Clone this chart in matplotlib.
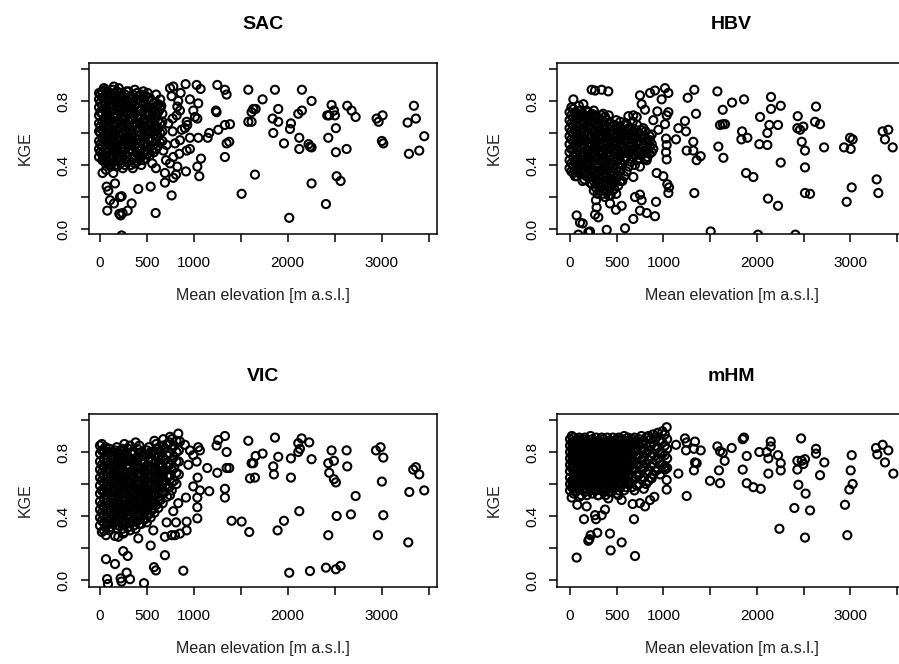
import numpy as np
import matplotlib
matplotlib.use("Agg")
import matplotlib.pyplot as plt

plt.rcParams['font.family'] = ['Liberation Sans', 'DejaVu Sans']

# ---- data: (mean elevation [m a.s.l.], KGE) ----
# scattered catchments
sac_pts = [
    (1250, 0.90), (1331, 0.87), (1349, 0.84), (1235, 0.74), (1242, 0.73), (1580, 0.87), (1732, 0.81),
    (1864, 0.87), (2151, 0.87), (2254, 0.80), (1633, 0.75), (1658, 0.75), (1615, 0.73), (1580, 0.67),
    (1615, 0.67), (1899, 0.75), (1839, 0.69), (1899, 0.67), (2151, 0.74), (2112, 0.72), (2034, 0.66),
    (2024, 0.625), (1846, 0.60), (1960, 0.535), (2123, 0.57), (2222, 0.53), (2123, 0.50), (2237, 0.515),
    (2254, 0.51), (2467, 0.775), (2492, 0.74), (2442, 0.71), (2421, 0.71), (2503, 0.71), (2513, 0.63),
    (2432, 0.57), (2513, 0.48), (2627, 0.50), (2634, 0.77), (2680, 0.74), (2723, 0.70), (2947, 0.69),
    (2968, 0.67), (3010, 0.71), (3003, 0.55), (3018, 0.535), (3344, 0.77), (3277, 0.665), (3365, 0.69),
    (3454, 0.58), (3291, 0.47), (3401, 0.49), (1651, 0.34), (1509, 0.22), (2254, 0.285), (2521, 0.33),
    (2563, 0.30), (2407, 0.156), (2016, 0.07), (1385, 0.655), (1331, 0.65), (1260, 0.62), (1164, 0.60),
    (1349, 0.535), (1377, 0.545), (1331, 0.45), (1147, 0.57),
    (1030, 0.90), (1072, 0.875), (958, 0.81), (1047, 0.785), (1012, 0.70), (1037, 0.69), (930, 0.65),
    (958, 0.57), (1047, 0.57), (958, 0.50), (1076, 0.44), (1037, 0.39), (1058, 0.33), (916, 0.36),
    (923, 0.49), (912, 0.905), (994, 0.74),
    (746, 0.88), (781, 0.89), (763, 0.83), (859, 0.85), (834, 0.80), (852, 0.74), (817, 0.71),
    (824, 0.765), (774, 0.69), (728, 0.66), (639, 0.765), (653, 0.77), (774, 0.61), (799, 0.535),
    (852, 0.555), (870, 0.62), (905, 0.63), (923, 0.67), (710, 0.525), (781, 0.45), (845, 0.47),
    (675, 0.49), (746, 0.41), (703, 0.43), (824, 0.39), (692, 0.35), (781, 0.32), (810, 0.34),
    (692, 0.29), (763, 0.21), (596, 0.38), (557, 0.41), (540, 0.265), (593, 0.10), (408, 0.25),
    (337, 0.16), (295, 0.115), (241, 0.10), (220, 0.085), (206, 0.095), (231, 0.205), (213, 0.20),
    (78, 0.115), (149, 0.16), (107, 0.18), (160, 0.285), (71, 0.265), (89, 0.24), (35, 0.45),
    (28, 0.35), (64, 0.37), (114, 0.39), (142, 0.35), (231, -0.04), (149, 0.89),
]
hbv_pts = [
    (1331, 0.87), (1260, 0.82), (1349, 0.72), (1231, 0.675), (1160, 0.63), (1242, 0.61), (1135, 0.56),
    (1320, 0.545), (1249, 0.49), (1320, 0.49), (1356, 0.43), (1399, 0.455), (1331, 0.225), (1578, 0.86),
    (1635, 0.745), (1735, 0.79), (1863, 0.81), (1606, 0.65), (1635, 0.655), (1660, 0.655), (1842, 0.61),
    (1835, 0.56), (1899, 0.57), (1588, 0.515), (1642, 0.445), (1885, 0.35), (1963, 0.325), (1506, -0.015),
    (2035, 0.70), (2134, 0.65), (2152, 0.825), (2152, 0.75), (2256, 0.77), (2227, 0.65), (2113, 0.60),
    (2027, 0.53), (2113, 0.525), (2256, 0.415), (2120, 0.19), (2227, 0.145), (2013, -0.035),
    (2413, -0.035), (2438, 0.705), (2434, 0.63), (2463, 0.62), (2498, 0.64), (2481, 0.545),
    (2516, 0.49), (2516, 0.385), (2516, 0.225), (2570, 0.22), (2634, 0.765), (2623, 0.67),
    (2677, 0.655), (2720, 0.51), (2934, 0.51), (2998, 0.57), (3026, 0.56), (3005, 0.50), (3016, 0.26),
    (2962, 0.17), (3283, 0.31), (3301, 0.225), (3347, 0.61), (3408, 0.62), (3372, 0.56), (3455, 0.51),
    (857, 0.85), (910, 0.865), (1017, 0.88), (1053, 0.85), (981, 0.81), (935, 0.735), (1053, 0.73),
    (1035, 0.71), (1017, 0.655), (946, 0.62), (1028, 0.565), (1035, 0.525), (1028, 0.48), (1035, 0.435),
    (928, 0.35), (999, 0.33), (1042, 0.28), (1060, 0.26), (1053, 0.225), (921, 0.17), (910, 0.08),
    (749, 0.835), (767, 0.78), (803, 0.745), (678, 0.71), (714, 0.70), (625, 0.705), (892, 0.68),
    (857, 0.555), (892, 0.50), (821, 0.43), (749, 0.39), (678, 0.325), (696, 0.20), (749, 0.215),
    (767, 0.18), (749, 0.115), (821, 0.10), (678, 0.063), (589, 0.005), (393, -0.005), (214, -0.015),
    (196, -0.02), (89, -0.035), (136, 0.035), (107, 0.04), (71, 0.085), (268, 0.09), (303, 0.073),
    (285, 0.135), (278, 0.18), (553, 0.145), (492, 0.12), (428, 0.16), (232, 0.87), (268, 0.865),
    (339, 0.87), (410, 0.86), (36, 0.81), (143, 0.78),
]
vic_pts = [
    (1331, 0.90), (1260, 0.875), (1242, 0.84), (1349, 0.80), (1580, 0.87), (1864, 0.89), (1732, 0.79),
    (1658, 0.775), (1615, 0.73), (1633, 0.73), (1598, 0.635), (1651, 0.64), (1899, 0.77), (1846, 0.71),
    (1853, 0.66), (2034, 0.76), (2034, 0.64), (2148, 0.885), (2112, 0.855), (2130, 0.82), (2112, 0.80),
    (2229, 0.86), (2254, 0.755), (2467, 0.81), (2627, 0.81), (2432, 0.73), (2492, 0.745), (2442, 0.67),
    (2492, 0.63), (2513, 0.61), (2634, 0.71), (2723, 0.525), (2521, 0.40), (2673, 0.41), (2432, 0.28),
    (2123, 0.43), (1960, 0.37), (1892, 0.31), (1590, 0.30), (1509, 0.365), (1402, 0.37), (2016, 0.045),
    (2237, 0.056), (2407, 0.077), (2513, 0.067), (2563, 0.088), (2940, 0.81), (2989, 0.83),
    (3018, 0.765), (3003, 0.615), (3018, 0.405), (2961, 0.28), (3337, 0.69), (3365, 0.705),
    (3401, 0.66), (3295, 0.55), (3454, 0.56), (3284, 0.235), (1331, 0.57), (1331, 0.515), (1250, 0.67),
    (1349, 0.70), (1377, 0.70), (1143, 0.70), (1164, 0.555),
    (834, 0.915), (746, 0.895), (675, 0.88), (852, 0.865), (905, 0.845), (958, 0.81), (1047, 0.83),
    (1065, 0.81), (994, 0.78), (941, 0.72), (1030, 0.74), (1040, 0.64), (994, 0.585), (1065, 0.56),
    (1037, 0.515), (916, 0.515), (1037, 0.455), (1037, 0.385), (923, 0.365), (923, 0.31), (852, 0.29),
    (799, 0.28), (763, 0.28), (692, 0.27), (810, 0.36), (710, 0.36), (781, 0.43), (834, 0.48),
    (746, 0.53), (692, 0.155), (575, 0.08), (596, 0.06), (540, 0.215), (888, 0.058), (568, 0.31),
    (408, 0.26), (248, 0.18), (295, 0.15), (64, 0.13), (160, 0.10), (284, 0.046), (76, 0.006),
    (85, -0.025), (220, 0.01), (230, -0.01), (320, 0.005), (469, -0.02), (64, 0.28), (160, 0.275),
    (195, 0.27), (248, 0.29),
]
mhm_pts = [
    (1035, 0.955), (1135, 0.845), (1231, 0.885), (1249, 0.86), (1338, 0.865), (1242, 0.81), (1327, 0.82),
    (1399, 0.81), (1338, 0.735), (1356, 0.73), (1327, 0.685), (1160, 0.665), (1249, 0.525), (1499, 0.62),
    (1606, 0.605), (1578, 0.835), (1606, 0.805), (1635, 0.795), (1731, 0.825), (1656, 0.745),
    (1595, 0.685), (1849, 0.88), (1863, 0.89), (1892, 0.775), (1849, 0.69), (1892, 0.605), (1963, 0.58),
    (2042, 0.57), (2027, 0.80), (2106, 0.80), (2149, 0.865), (2149, 0.835), (2124, 0.76), (2227, 0.78),
    (2256, 0.73), (2256, 0.685), (2124, 0.665), (2242, 0.32), (2474, 0.885), (2434, 0.745),
    (2481, 0.745), (2498, 0.725), (2516, 0.755), (2434, 0.69), (2445, 0.595), (2523, 0.54),
    (2402, 0.45), (2570, 0.435), (2516, 0.265), (2634, 0.82), (2634, 0.79), (2723, 0.735), (2677, 0.655),
    (3016, 0.78), (3005, 0.685), (3026, 0.60), (2991, 0.565), (2944, 0.47), (2969, 0.28), (3276, 0.825),
    (3347, 0.845), (3408, 0.81), (3290, 0.785), (3372, 0.735), (3462, 0.665),
    (71, 0.14), (150, 0.38), (268, 0.405), (278, 0.38), (339, 0.405), (375, 0.44), (196, 0.245),
    (207, 0.255), (221, 0.28), (292, 0.295), (428, 0.29), (435, 0.185), (553, 0.235), (696, 0.15),
    (685, 0.38), (18, 0.515), (78, 0.47), (178, 0.46), (303, 0.53), (410, 0.51), (517, 0.53),
    (553, 0.50), (671, 0.475), (749, 0.48), (803, 0.46), (857, 0.50), (903, 0.52), (874, 0.635),
    (1035, 0.625), (1035, 0.565), (1017, 0.69),
]

# dense low-elevation cores: one elevation per column, KGE values in that column
sac_core_elev = [-10, 25, 60, 100, 140, 180, 220, 265, 305, 350, 395, 440, 485, 530, 575, 620, 665,
                 5, 42, 80, 120, 160, 200, 243, 285, 328, 372, 418, 462, 508, 552, 598, 642]
sac_core_kge = [
    [0.45, 0.50, 0.55, 0.61, 0.66, 0.71, 0.76, 0.81, 0.85],
    [0.43, 0.47, 0.52, 0.57, 0.62, 0.67, 0.72, 0.77, 0.82, 0.86],
    [0.41, 0.46, 0.50, 0.55, 0.59, 0.64, 0.69, 0.74, 0.79, 0.84, 0.87],
    [0.40, 0.44, 0.49, 0.53, 0.58, 0.62, 0.67, 0.71, 0.76, 0.80, 0.85],
    [0.42, 0.46, 0.51, 0.56, 0.60, 0.65, 0.70, 0.74, 0.78, 0.83, 0.87],
    [0.39, 0.44, 0.48, 0.53, 0.57, 0.62, 0.66, 0.71, 0.76, 0.81, 0.86],
    [0.41, 0.45, 0.50, 0.55, 0.60, 0.64, 0.69, 0.73, 0.78, 0.82, 0.85],
    [0.40, 0.46, 0.51, 0.56, 0.61, 0.66, 0.70, 0.75, 0.80, 0.84],
    [0.43, 0.48, 0.52, 0.57, 0.62, 0.67, 0.72, 0.77, 0.82, 0.86],
    [0.38, 0.44, 0.49, 0.54, 0.59, 0.64, 0.69, 0.74, 0.79, 0.84],
    [0.42, 0.47, 0.51, 0.56, 0.61, 0.66, 0.71, 0.76, 0.81, 0.85],
    [0.40, 0.45, 0.50, 0.55, 0.60, 0.65, 0.70, 0.75, 0.80, 0.84],
    [0.44, 0.49, 0.54, 0.58, 0.63, 0.68, 0.73, 0.78, 0.83],
    [0.46, 0.51, 0.56, 0.61, 0.66, 0.71, 0.76, 0.82],
    [0.48, 0.53, 0.59, 0.64, 0.69, 0.74, 0.79],
    [0.52, 0.58, 0.63, 0.68, 0.73, 0.78],
    [0.55, 0.61, 0.67, 0.72],
    [0.48, 0.53, 0.60, 0.64, 0.73, 0.79, 0.84],
    [0.44, 0.54, 0.58, 0.65, 0.69, 0.75, 0.80, 0.88],
    [0.43, 0.48, 0.57, 0.62, 0.70, 0.73, 0.82, 0.86],
    [0.42, 0.51, 0.55, 0.63, 0.68, 0.78, 0.83],
    [0.40, 0.49, 0.54, 0.58, 0.67, 0.72, 0.80, 0.85],
    [0.43, 0.47, 0.56, 0.63, 0.68, 0.74, 0.79, 0.88],
    [0.38, 0.48, 0.53, 0.59, 0.65, 0.71, 0.77, 0.83],
    [0.42, 0.45, 0.54, 0.60, 0.64, 0.73, 0.79, 0.86],
    [0.40, 0.50, 0.55, 0.61, 0.69, 0.75, 0.81],
    [0.41, 0.46, 0.52, 0.57, 0.66, 0.72, 0.77, 0.87],
    [0.44, 0.49, 0.58, 0.63, 0.69, 0.74, 0.83],
    [0.43, 0.53, 0.57, 0.62, 0.67, 0.78, 0.82, 0.86],
    [0.47, 0.52, 0.60, 0.65, 0.71, 0.76, 0.85],
    [0.49, 0.55, 0.63, 0.69, 0.74, 0.80],
    [0.50, 0.56, 0.62, 0.71, 0.77, 0.84],
    [0.54, 0.60, 0.66, 0.75, 0.81],
]
hbv_core_elev = [-5, 35, 75, 115, 155, 195, 235, 275, 315, 355, 395, 435, 475, 515, 560, 605,
                 650, 695, 740, 785, 830, 875,
                 15, 55, 95, 135, 175, 215, 255, 295, 335, 375, 415, 455, 495, 538, 582, 628,
                 672, 718, 762, 808, 852]
hbv_core_kge = [
    [0.38, 0.43, 0.48, 0.53, 0.58, 0.63, 0.68, 0.73],
    [0.35, 0.40, 0.45, 0.50, 0.55, 0.60, 0.65, 0.70, 0.75],
    [0.33, 0.38, 0.43, 0.47, 0.52, 0.57, 0.62, 0.67, 0.72],
    [0.36, 0.41, 0.45, 0.50, 0.55, 0.60, 0.65, 0.70, 0.74],
    [0.31, 0.36, 0.41, 0.46, 0.51, 0.56, 0.61, 0.66, 0.71],
    [0.34, 0.39, 0.44, 0.49, 0.54, 0.59, 0.64, 0.69, 0.73],
    [0.28, 0.33, 0.38, 0.43, 0.48, 0.53, 0.58, 0.63, 0.68, 0.72],
    [0.26, 0.31, 0.36, 0.41, 0.46, 0.51, 0.56, 0.61, 0.66, 0.71],
    [0.24, 0.29, 0.34, 0.39, 0.44, 0.49, 0.54, 0.59, 0.64, 0.69],
    [0.22, 0.27, 0.32, 0.37, 0.42, 0.47, 0.52, 0.57, 0.62, 0.67, 0.72],
    [0.23, 0.28, 0.33, 0.38, 0.43, 0.48, 0.53, 0.58, 0.63, 0.68],
    [0.21, 0.26, 0.31, 0.36, 0.41, 0.46, 0.51, 0.56, 0.61, 0.66],
    [0.25, 0.30, 0.35, 0.40, 0.45, 0.50, 0.55, 0.60, 0.65],
    [0.27, 0.33, 0.39, 0.44, 0.49, 0.54, 0.59, 0.64],
    [0.30, 0.40, 0.47, 0.52, 0.57, 0.62],
    [0.36, 0.45, 0.50, 0.55, 0.60, 0.66],
    [0.42, 0.48, 0.53, 0.58, 0.63],
    [0.40, 0.46, 0.51, 0.57, 0.62],
    [0.44, 0.50, 0.55, 0.60],
    [0.47, 0.52, 0.58, 0.63],
    [0.45, 0.50, 0.56],
    [0.48, 0.53, 0.59],
    [0.36, 0.41, 0.50, 0.56, 0.61, 0.66, 0.71, 0.76],
    [0.33, 0.43, 0.47, 0.53, 0.62, 0.68, 0.73],
    [0.35, 0.40, 0.49, 0.55, 0.59, 0.64, 0.70, 0.77],
    [0.30, 0.38, 0.43, 0.53, 0.57, 0.63, 0.68, 0.72],
    [0.33, 0.39, 0.44, 0.49, 0.58, 0.64, 0.69, 0.74],
    [0.29, 0.36, 0.41, 0.47, 0.51, 0.57, 0.62, 0.67, 0.71],
    [0.24, 0.30, 0.35, 0.45, 0.50, 0.55, 0.61, 0.70, 0.74],
    [0.22, 0.28, 0.33, 0.39, 0.43, 0.53, 0.58, 0.64, 0.69],
    [0.26, 0.31, 0.37, 0.42, 0.47, 0.51, 0.57, 0.66, 0.71],
    [0.20, 0.25, 0.30, 0.35, 0.44, 0.50, 0.55, 0.60, 0.65, 0.70],
    [0.21, 0.26, 0.31, 0.40, 0.45, 0.51, 0.56, 0.61, 0.66, 0.71],
    [0.24, 0.28, 0.33, 0.38, 0.43, 0.49, 0.53, 0.59, 0.64],
    [0.22, 0.32, 0.37, 0.42, 0.47, 0.52, 0.57, 0.62, 0.68],
    [0.30, 0.36, 0.41, 0.46, 0.56, 0.61, 0.67],
    [0.33, 0.43, 0.49, 0.55, 0.60, 0.65],
    [0.39, 0.47, 0.52, 0.58, 0.63],
    [0.45, 0.50, 0.56, 0.61, 0.67],
    [0.43, 0.48, 0.54, 0.60, 0.65],
    [0.46, 0.53, 0.57, 0.62],
    [0.44, 0.49, 0.55, 0.61],
    [0.47, 0.52, 0.58],
]
vic_core_elev = [0, 40, 80, 120, 160, 200, 240, 280, 320, 360, 400, 440, 480, 520, 560, 600,
                 645, 690, 740, 790, 840,
                 20, 60, 100, 140, 180, 220, 260, 300, 340, 380, 420, 460, 500, 540, 580, 622,
                 668, 715, 765, 815]
vic_core_kge = [
    [0.34, 0.39, 0.44, 0.49, 0.54, 0.59, 0.64, 0.69, 0.74, 0.79, 0.84],
    [0.31, 0.36, 0.41, 0.46, 0.51, 0.56, 0.61, 0.66, 0.71, 0.76, 0.81],
    [0.35, 0.40, 0.45, 0.50, 0.55, 0.60, 0.65, 0.70, 0.75, 0.80],
    [0.33, 0.38, 0.43, 0.48, 0.53, 0.58, 0.63, 0.68, 0.73, 0.78],
    [0.36, 0.41, 0.46, 0.51, 0.56, 0.61, 0.66, 0.71, 0.76, 0.81],
    [0.34, 0.39, 0.44, 0.49, 0.54, 0.59, 0.64, 0.69, 0.74, 0.79],
    [0.32, 0.37, 0.42, 0.47, 0.52, 0.57, 0.62, 0.67, 0.72, 0.77, 0.82],
    [0.35, 0.40, 0.45, 0.50, 0.55, 0.60, 0.65, 0.70, 0.75, 0.80],
    [0.31, 0.36, 0.41, 0.46, 0.51, 0.56, 0.61, 0.66, 0.71, 0.76, 0.84],
    [0.34, 0.39, 0.44, 0.49, 0.54, 0.59, 0.64, 0.69, 0.74, 0.79],
    [0.37, 0.42, 0.47, 0.52, 0.57, 0.62, 0.67, 0.72, 0.77, 0.82],
    [0.35, 0.40, 0.45, 0.50, 0.55, 0.60, 0.65, 0.70, 0.75, 0.80],
    [0.38, 0.43, 0.48, 0.53, 0.58, 0.63, 0.68, 0.73, 0.78],
    [0.41, 0.46, 0.51, 0.56, 0.61, 0.66, 0.71, 0.76, 0.83],
    [0.44, 0.50, 0.55, 0.60, 0.65, 0.70, 0.75, 0.80],
    [0.47, 0.53, 0.58, 0.64, 0.69, 0.74, 0.79, 0.85],
    [0.50, 0.57, 0.63, 0.68, 0.73, 0.80],
    [0.55, 0.62, 0.68, 0.75, 0.82],
    [0.58, 0.65, 0.72, 0.79, 0.86],
    [0.62, 0.70, 0.77, 0.84],
    [0.66, 0.74, 0.81],
    [0.30, 0.37, 0.42, 0.47, 0.56, 0.62, 0.67, 0.72, 0.81, 0.85],
    [0.33, 0.38, 0.48, 0.53, 0.58, 0.63, 0.73, 0.78, 0.83],
    [0.31, 0.37, 0.42, 0.47, 0.57, 0.62, 0.68, 0.72, 0.82],
    [0.35, 0.40, 0.45, 0.50, 0.55, 0.65, 0.70, 0.75, 0.80],
    [0.32, 0.38, 0.43, 0.48, 0.53, 0.63, 0.68, 0.73, 0.78, 0.83],
    [0.36, 0.41, 0.46, 0.56, 0.61, 0.66, 0.71, 0.76, 0.81],
    [0.30, 0.35, 0.44, 0.49, 0.54, 0.59, 0.64, 0.74, 0.79, 0.85],
    [0.33, 0.38, 0.43, 0.48, 0.57, 0.62, 0.67, 0.72, 0.77, 0.82],
    [0.36, 0.43, 0.48, 0.53, 0.58, 0.63, 0.68, 0.74, 0.80],
    [0.32, 0.37, 0.41, 0.47, 0.51, 0.57, 0.61, 0.71, 0.76, 0.86],
    [0.35, 0.40, 0.45, 0.50, 0.55, 0.60, 0.65, 0.70, 0.79, 0.84],
    [0.38, 0.43, 0.48, 0.52, 0.58, 0.63, 0.68, 0.73, 0.78],
    [0.36, 0.41, 0.46, 0.51, 0.56, 0.61, 0.66, 0.71, 0.81],
    [0.39, 0.44, 0.49, 0.53, 0.59, 0.64, 0.69, 0.74, 0.80],
    [0.42, 0.48, 0.53, 0.58, 0.62, 0.67, 0.73, 0.78, 0.87],
    [0.45, 0.50, 0.56, 0.61, 0.66, 0.71, 0.77, 0.82],
    [0.48, 0.54, 0.60, 0.65, 0.71, 0.77, 0.84],
    [0.52, 0.58, 0.65, 0.71, 0.78, 0.85],
    [0.56, 0.61, 0.69, 0.75, 0.82, 0.88],
    [0.60, 0.67, 0.74, 0.80, 0.87],
]
mhm_core_elev = [0, 40, 80, 120, 160, 200, 240, 280, 320, 360, 400, 440, 480, 520, 560, 600,
                 640, 690, 740, 790, 840, 890, 940, 990, 1040,
                 20, 60, 100, 140, 180, 220, 260, 300, 340, 380, 420, 460, 500, 540, 580, 620,
                 665, 715, 765, 815, 865, 915, 965, 1015]
mhm_core_kge = [
    [0.56, 0.60, 0.64, 0.68, 0.72, 0.76, 0.80, 0.84, 0.88],
    [0.54, 0.58, 0.62, 0.66, 0.70, 0.74, 0.78, 0.82, 0.86, 0.89],
    [0.57, 0.61, 0.65, 0.69, 0.73, 0.77, 0.81, 0.85, 0.88],
    [0.53, 0.59, 0.63, 0.67, 0.71, 0.75, 0.79, 0.83, 0.87],
    [0.55, 0.60, 0.64, 0.68, 0.72, 0.76, 0.80, 0.84, 0.89],
    [0.58, 0.62, 0.66, 0.70, 0.74, 0.78, 0.82, 0.86],
    [0.54, 0.59, 0.63, 0.67, 0.71, 0.75, 0.79, 0.83, 0.88],
    [0.56, 0.61, 0.65, 0.69, 0.73, 0.77, 0.81, 0.85, 0.89],
    [0.58, 0.62, 0.66, 0.70, 0.74, 0.78, 0.82, 0.86],
    [0.55, 0.60, 0.64, 0.68, 0.72, 0.76, 0.80, 0.84, 0.88],
    [0.57, 0.61, 0.65, 0.69, 0.73, 0.77, 0.81, 0.85, 0.89],
    [0.55, 0.59, 0.63, 0.67, 0.71, 0.75, 0.79, 0.83, 0.87],
    [0.58, 0.62, 0.66, 0.70, 0.74, 0.78, 0.82, 0.86],
    [0.56, 0.61, 0.65, 0.69, 0.73, 0.77, 0.81, 0.85, 0.89],
    [0.60, 0.64, 0.68, 0.72, 0.76, 0.80, 0.84, 0.88],
    [0.58, 0.63, 0.67, 0.71, 0.75, 0.79, 0.83, 0.87],
    [0.61, 0.66, 0.71, 0.76, 0.81, 0.86],
    [0.56, 0.63, 0.69, 0.74, 0.80, 0.85, 0.89],
    [0.60, 0.66, 0.72, 0.78, 0.84, 0.88],
    [0.57, 0.64, 0.70, 0.76, 0.82, 0.87],
    [0.62, 0.68, 0.75, 0.81, 0.90],
    [0.66, 0.73, 0.79, 0.86, 0.91],
    [0.69, 0.76, 0.83, 0.92],
    [0.72, 0.79, 0.86, 0.93],
    [0.70, 0.76, 0.82, 0.88],
    [0.58, 0.62, 0.70, 0.74, 0.78, 0.82, 0.86, 0.90],
    [0.55, 0.60, 0.64, 0.68, 0.76, 0.80, 0.84, 0.87],
    [0.52, 0.59, 0.63, 0.67, 0.71, 0.79, 0.83, 0.89],
    [0.56, 0.61, 0.65, 0.69, 0.73, 0.77, 0.85, 0.88],
    [0.53, 0.57, 0.62, 0.66, 0.74, 0.78, 0.82, 0.87],
    [0.56, 0.60, 0.64, 0.68, 0.72, 0.76, 0.80, 0.84, 0.90],
    [0.57, 0.61, 0.69, 0.73, 0.77, 0.81, 0.86],
    [0.53, 0.58, 0.63, 0.67, 0.71, 0.75, 0.79, 0.83, 0.87],
    [0.56, 0.60, 0.64, 0.68, 0.72, 0.80, 0.84, 0.89],
    [0.53, 0.57, 0.62, 0.66, 0.70, 0.74, 0.78, 0.82, 0.86],
    [0.55, 0.59, 0.63, 0.67, 0.75, 0.79, 0.83, 0.87],
    [0.57, 0.61, 0.65, 0.69, 0.73, 0.77, 0.81, 0.85, 0.89],
    [0.54, 0.60, 0.64, 0.68, 0.72, 0.76, 0.80, 0.84, 0.88],
    [0.58, 0.63, 0.67, 0.71, 0.75, 0.79, 0.83, 0.87],
    [0.56, 0.62, 0.66, 0.70, 0.74, 0.78, 0.82, 0.86, 0.90],
    [0.60, 0.65, 0.69, 0.73, 0.77, 0.81, 0.85, 0.89],
    [0.58, 0.64, 0.69, 0.74, 0.79, 0.84, 0.88],
    [0.59, 0.66, 0.72, 0.77, 0.82, 0.87],
    [0.63, 0.69, 0.75, 0.81, 0.86, 0.90],
    [0.60, 0.67, 0.73, 0.79, 0.85, 0.89],
    [0.64, 0.71, 0.77, 0.84, 0.88],
    [0.68, 0.75, 0.82, 0.89],
    [0.66, 0.74, 0.80, 0.87],
    [0.71, 0.78, 0.84, 0.91],
]

titles = ["SAC", "HBV", "VIC", "mHM"]
x_ticks = [0, 500, 1000, 1500, 2000, 2500, 3000, 3500]
x_ticklabels = ["0", "500", "1000", "", "2000", "", "3000", ""]
y_ticks = [0.0, 0.2, 0.4, 0.6, 0.8, 1.0]
y_ticklabels = ["0.0", "", "0.4", "", "0.8", ""]


def collect(pts, core_elev, core_kge):
    x = [p[0] for p in pts]
    y = [p[1] for p in pts]
    for e, ks in zip(core_elev, core_kge):
        x += [e] * len(ks)
        y += list(ks)
    return np.array(x), np.array(y)


panels = [
    collect(sac_pts, sac_core_elev, sac_core_kge),
    collect(hbv_pts, hbv_core_elev, hbv_core_kge),
    collect(vic_pts, vic_core_elev, vic_core_kge),
    collect(mhm_pts, mhm_core_elev, mhm_core_kge),
]

fig = plt.figure(figsize=(8.99, 6.64), dpi=100)
W, H = 899, 664
# axes boxes in pixels: left, top, right, bottom
boxes = [(88.7, 62.7, 437.0, 234.0), (557.3, 62.7, 905.6, 234.0),
         (88.7, 414.0, 437.0, 586.7), (557.3, 414.0, 905.6, 586.7)]
xlims = [(-120, 3590), (-136, 3593), (-120, 3590), (-136, 3593)]
ylims = [(-0.031, 1.039), (-0.031, 1.039), (-0.042, 1.0375), (-0.042, 1.0375)]

for i, (x, y) in enumerate(panels):
    l, t, r, b = boxes[i]
    ax = fig.add_axes([l / W, 1 - b / H, (r - l) / W, (b - t) / H])
    ax.scatter(x, y, s=34, facecolors='none', edgecolors='black', linewidths=1.5)
    ax.set_xlim(*xlims[i])
    ax.set_ylim(*ylims[i])
    ax.set_xticks(x_ticks)
    ax.set_xticklabels(x_ticklabels)
    ax.set_yticks(y_ticks)
    ax.set_yticklabels(y_ticklabels, rotation=90, va='center')
    ax.tick_params(axis='x', length=6, width=1.1, pad=10, labelsize=11, colors='black')
    ax.tick_params(axis='y', length=6, width=1.1, pad=7, labelsize=11, colors='black')
    for sp in ax.spines.values():
        sp.set_linewidth(1.1)
        sp.set_color('black')
    ax.set_title(titles[i], fontsize=14, fontweight='bold', pad=24)
    ax.set_xlabel("Mean elevation [m a.s.l.]", fontsize=11.5, labelpad=13, color='#222222')
    ax.set_ylabel("KGE", fontsize=11.5, labelpad=17, color='#222222')

fig.savefig("out.png", dpi=100)
